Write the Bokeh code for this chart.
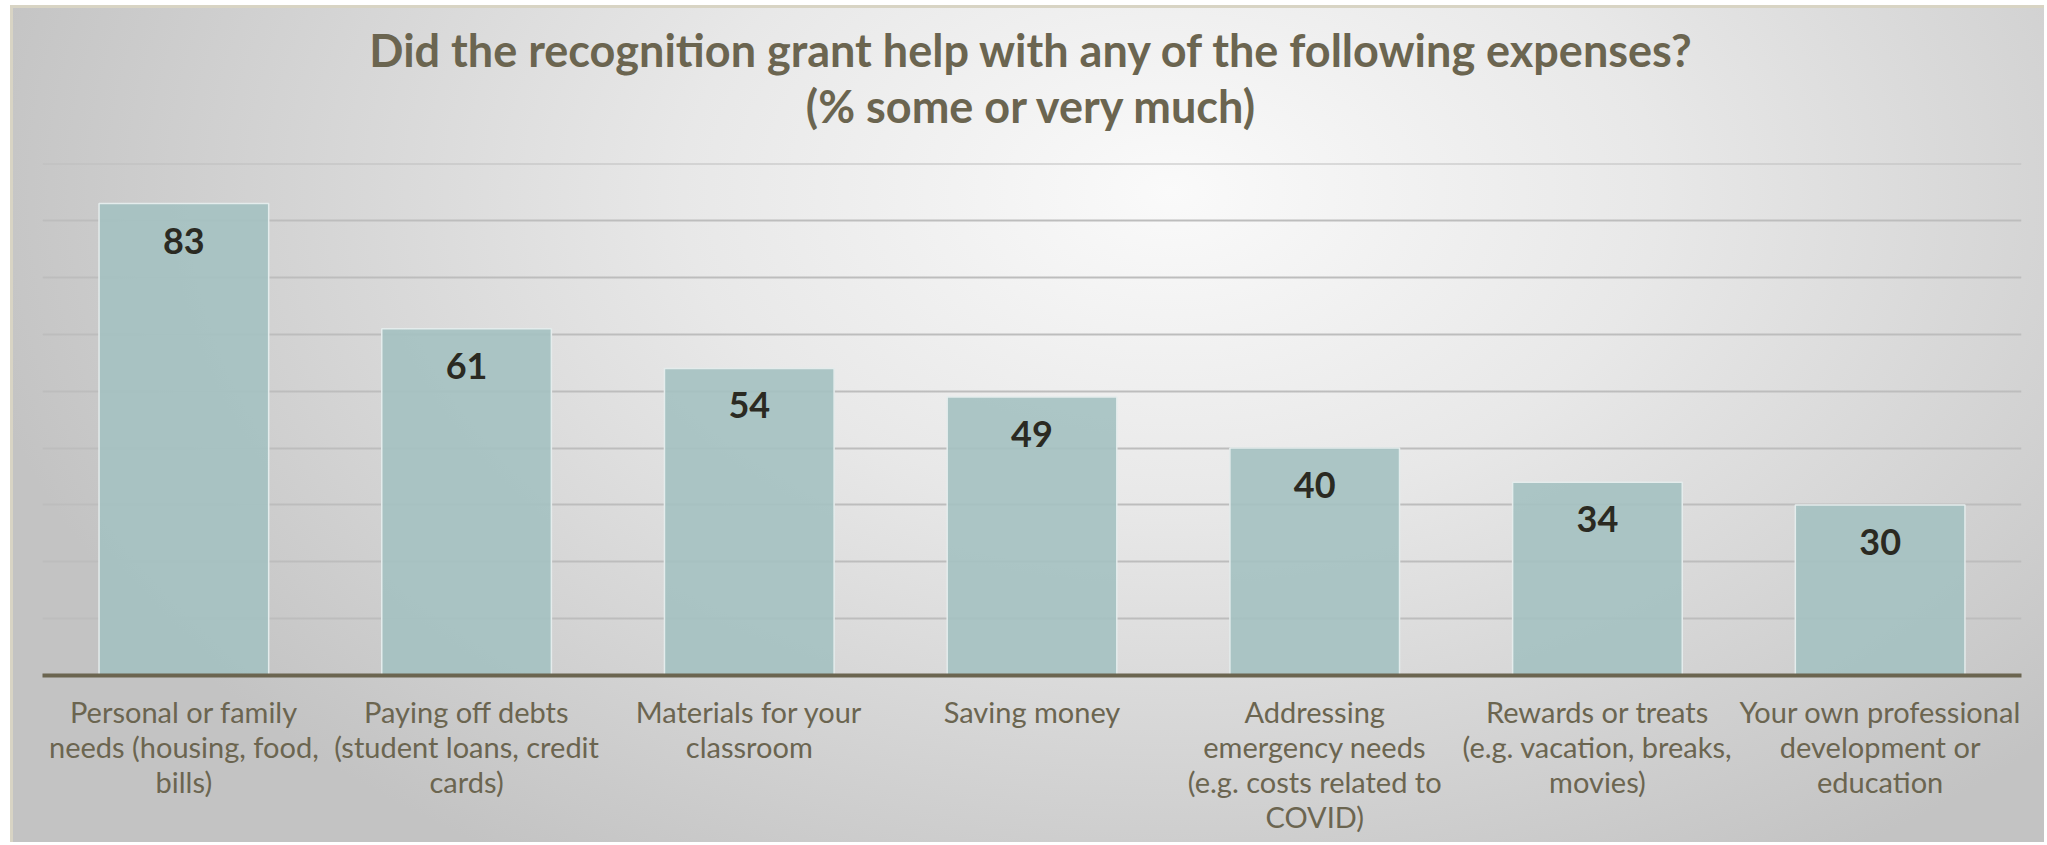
from bokeh.plotting import figure
from bokeh.models import FactorRange, ColumnDataSource, Title
from bokeh.core.properties import value
from bokeh.embed import file_html
from bokeh.resources import INLINE

categories = [
    "Personal or family\nneeds (housing, food,\nbills)",
    "Paying off debts\n(student loans, credit\ncards)",
    "Materials for your\nclassroom",
    "Saving money",
    "Addressing\nemergency needs\n(e.g. costs related to\nCOVID)",
    "Rewards or treats\n(e.g. vacation, breaks,\nmovies)",
    "Your own professional\ndevelopment or\neducation",
]
values = [83, 61, 54, 49, 40, 34, 30]
value_labels = ["83", "61", "54", "49", "40", "34", "30"]
y_ticks = [0, 10, 20, 30, 40, 50, 60, 70, 80, 90]
title_line1 = "Did the recognition grant help with any of the following expenses?"
title_line2 = "(% some or very much)"

TEXT = "#6b6550"

src = ColumnDataSource(dict(cat=categories, val=values, lab=value_labels))

p = figure(
    x_range=FactorRange(*categories), y_range=(0, 90.05),
    width=2034, height=837,
    output_backend="svg", toolbar_location=None,
    min_border_left=29, min_border_right=26, min_border_top=155, min_border_bottom=170,
    title=title_line1,
)
p.styles = {
    "margin-left": "10px",
    "margin-top": "5px",
    "border-left": "3px solid #d8d4c4",
    "border-top": "3px solid #d8d4c4",
    "background-image": "radial-gradient(ellipse 60% 95% at 57% 22%, #fafafa 0%, #e8e8e8 40%, #c3c3c3 100%)",
}
p.background_fill_alpha = 0
p.border_fill_alpha = 0
p.outline_line_color = None

p.title.align = "center"
p.title.text_font = "Lato"
p.title.text_font_size = "45px"
p.title.text_font_style = "bold"
p.title.text_color = TEXT
p.title.standoff = -62

t2 = Title(text=title_line2, align="center", text_font="Lato", text_font_size="45px",
           text_font_style="bold", text_color=TEXT, standoff=62)
p.add_layout(t2, "above")

p.vbar(x="cat", top="val", width=0.6, source=src,
       fill_color="#a4c1c1", fill_alpha=0.9, line_color="#e4ecec", line_width=1.5)

p.text(x="cat", y="val", text="lab", source=src, y_offset=37,
       text_align="center", text_baseline="middle",
       text_font=value("Lato"), text_font_style="bold", text_font_size="36px",
       text_color="#2b2a22")

p.yaxis.visible = False
p.ygrid.ticker = y_ticks
p.ygrid.grid_line_color = "#bdbdbd"
p.ygrid.grid_line_width = 2
p.xgrid.grid_line_color = None

ax = p.xaxis[0]
ax.axis_line_color = TEXT
ax.axis_line_width = 4
ax.major_tick_line_color = None
ax.minor_tick_line_color = None
ax.major_label_text_font = "Lato"
ax.major_label_text_font_size = "29px"
ax.major_label_text_color = TEXT
ax.major_label_text_line_height = 1.0
ax.major_label_standoff = 12
ax.major_label_orientation = "horizontal"

open("out.html", "w").write(file_html(p, INLINE))
